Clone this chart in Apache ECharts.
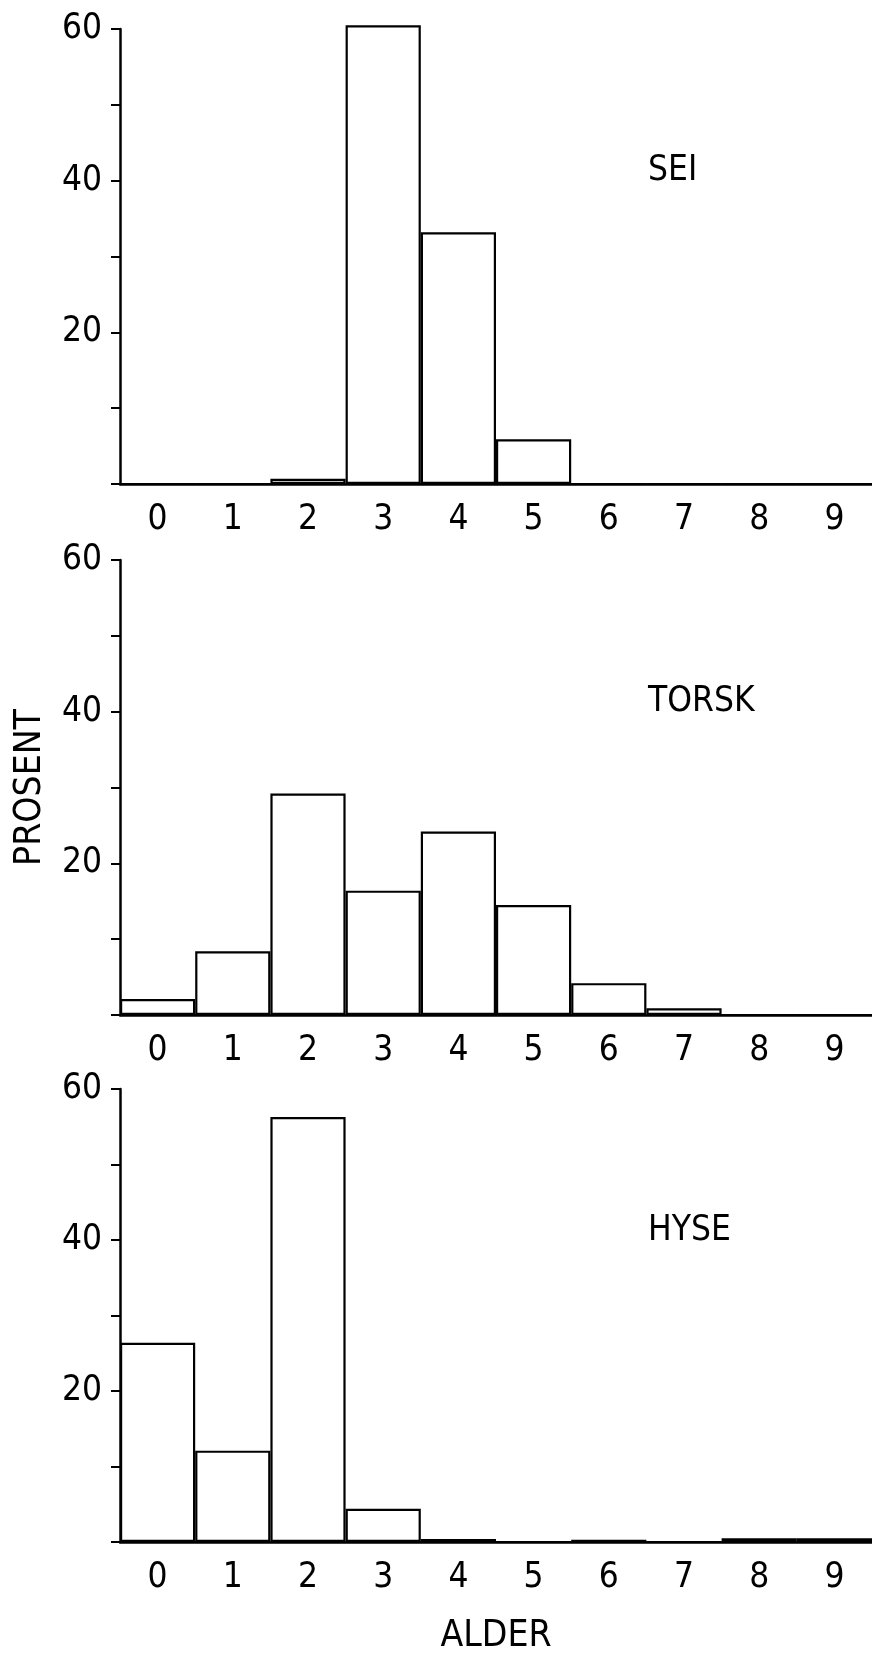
<!DOCTYPE html>
<html>
<head>
<meta charset="utf-8">
<script src="https://cdn.jsdelivr.net/npm/echarts@6/dist/echarts.min.js"></script>
<style>
  html, body { margin: 0; padding: 0; background: #fff; }
  #chart { width: 872px; height: 1656px; }
</style>
</head>
<body>
<div id="chart"></div>
<script>
// ---- data ----
const ages = ['0', '1', '2', '3', '4', '5', '6', '7', '8', '9'];
const sei = [0, 0, 0.7, 60.5, 33.2, 5.9, 0, 0, 0, 0];
const torsk = [2.1, 8.4, 29.2, 16.4, 24.2, 14.5, 4.2, 0.9, 0, 0];
const hyse = [26.4, 12.1, 56.3, 4.4, 0.4, 0, 0.3, 0, 0.5, 0.5];
const panelNames = ['SEI', 'TORSK', 'HYSE'];
const yLabelValues = [20, 40, 60];
const yAxisTitle = 'PROSENT';
const xAxisTitle = 'ALDER';

// ---- layout / style ----
const FONT = "'Liberation Sans Narrow', 'DejaVu Sans Condensed', 'Liberation Sans', sans-serif";
const gridTops = [29, 560, 1089];
const gridHeight = 455;
const seriesData = [sei, torsk, hyse];

const grids = [], xAxes = [], yAxes = [], series = [], titles = [];
for (let i = 0; i < 3; i++) {
  grids.push({ left: 120, right: 0, top: gridTops[i], height: gridHeight, containLabel: false });
  xAxes.push({
    type: 'category', gridIndex: i, data: ages,
    axisLine: { lineStyle: { color: '#000', width: 2.5 } },
    axisTick: { show: false },
    axisLabel: { color: '#000', fontFamily: FONT, fontSize: 35, margin: 18 },
    splitLine: { show: false },
    name: i === 2 ? xAxisTitle : '',
    nameLocation: 'middle', nameGap: 76,
    nameTextStyle: { color: '#000', fontFamily: FONT, fontSize: 37 }
  });
  yAxes.push({
    type: 'value', gridIndex: i, min: 0, max: 60, interval: 10,
    axisLine: { show: true, lineStyle: { color: '#000', width: 2.5 } },
    axisTick: { show: true, length: 9, lineStyle: { color: '#000', width: 2 } },
    axisLabel: {
      color: '#000', fontFamily: FONT, fontSize: 35, margin: 18,
      formatter: v => (yLabelValues.indexOf(v) >= 0 ? String(v) : '')
    },
    splitLine: { show: false },
    name: i === 1 ? yAxisTitle : '',
    nameLocation: 'middle', nameGap: 71, nameRotate: 90,
    nameTextStyle: { color: '#000', fontFamily: FONT, fontSize: 37 }
  });
  series.push({
    type: 'bar', xAxisIndex: i, yAxisIndex: i, data: seriesData[i],
    barCategoryGap: '0%', clip: false,
    itemStyle: { color: '#fff', borderColor: '#000', borderWidth: 2.2 },
    emphasis: { disabled: true }
  });
  titles.push({
    text: panelNames[i], left: 648, top: gridTops[i] + 124, padding: 0,
    textStyle: { color: '#000', fontFamily: FONT, fontSize: 35, fontWeight: 'normal' }
  });
}

const chart = echarts.init(document.getElementById('chart'), null, { renderer: 'canvas' });
chart.setOption({
  animation: false,
  backgroundColor: '#fff',
  title: titles,
  grid: grids,
  xAxis: xAxes,
  yAxis: yAxes,
  series: series
});
</script>
</body>
</html>
